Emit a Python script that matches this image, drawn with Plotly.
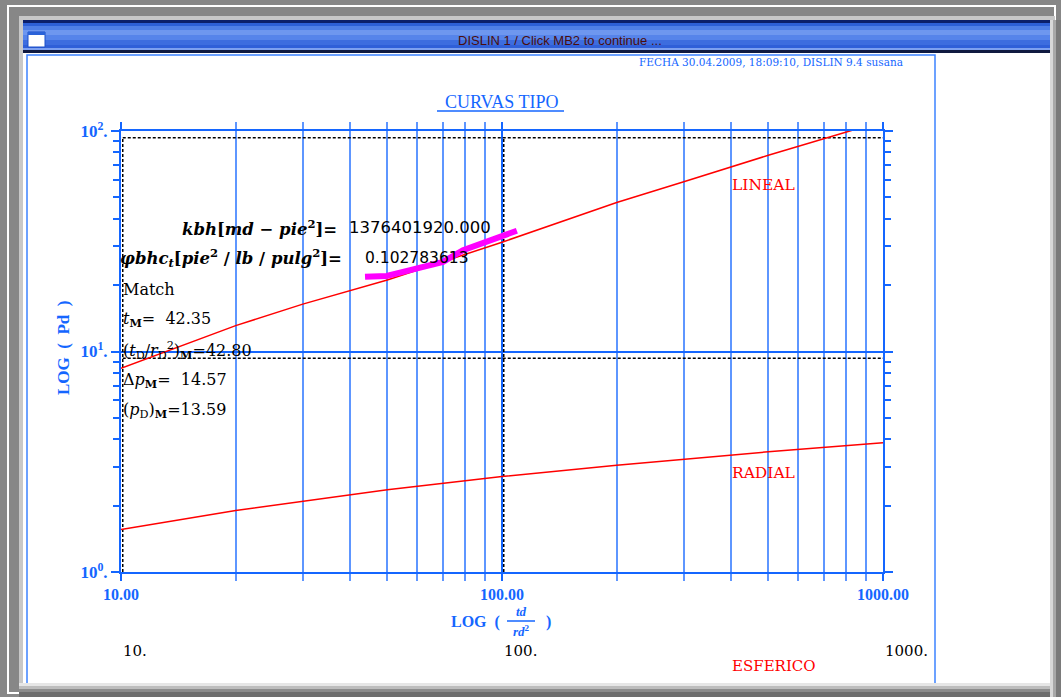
import math
import plotly.graph_objects as go

W, H = 1061, 697
L, R, T, B = 121, 883, 131, 572   # plot area (px)

# ---------------- data ----------------
LIN_TD = [10, 20, 30, 50, 100, 200, 300, 500, 818, 1000]
LIN_PD = [8.4, 13.1, 16.4, 21.1, 31.3, 47.4, 58.9, 77.6, 100, 111]
RAD_TD = [10, 20, 50, 100, 200, 500, 1000]
RAD_PD = [1.56, 1.90, 2.36, 2.71, 3.05, 3.51, 3.86]
DATA_TD = [43.7, 49.8, 57.4, 64.7, 70.0, 79.0, 85.9, 94.7, 109.4]
DATA_PD = [21.8, 22.0, 23.4, 24.7, 25.5, 28.8, 30.4, 32.7, 35.3]
T_M, TD_M = 42.35, 42.80
DP_M, PD_M = 14.57, 13.59
KBH = "1376401920.000"
PHIBHCT = "0.102783613"
X_TICKS = [10, 100, 1000]
X_TICKTEXT = ["10.00", "100.00", "1000.00"]
X_MINOR = [20, 30, 40, 50, 60, 70, 80, 90, 200, 300, 400, 500, 600, 700, 800, 900]
Y_TICKS = [1, 10, 100]
Y_TICKTEXT = ["10<sup>0</sup>.", "10<sup>1</sup>.", "10<sup>2</sup>."]
Y_MINOR = [2, 3, 4, 5, 6, 7, 8, 9, 20, 30, 40, 50, 60, 70, 80, 90]
DATA_DECADES_T = [10, 100, 1000]
DATA_DECADES_P = [1, 10, 100]
DATA_LABELS = ["10.", "100.", "1000."]

BLUE = "#1466ff"
GRID = "#5e96ff"
RED = "#ff0000"


def ax(px):
    return (px - L) / (R - L)


def ay(py):
    return (B - py) / (B - T)


fig = go.Figure()

# match-point (data) grid, dashed
xr = TD_M / T_M
yr = PD_M / DP_M
top_dash = max(p * yr for p in DATA_DECADES_P if p * yr <= 100)
for t in DATA_DECADES_T:
    fig.add_trace(go.Scatter(x=[t * xr, t * xr], y=[1, top_dash], mode="lines",
                             line=dict(color="black", width=1.5, dash="3px,2px"),
                             hoverinfo="skip", showlegend=False))
for p in DATA_DECADES_P:
    fig.add_trace(go.Scatter(x=[DATA_DECADES_T[0] * xr, 1000], y=[p * yr, p * yr], mode="lines",
                             line=dict(color="black", width=1.5, dash="3px,2px"),
                             hoverinfo="skip", showlegend=False))

fig.add_trace(go.Scatter(x=LIN_TD, y=LIN_PD, mode="lines", line=dict(color=RED, width=1.5),
                         showlegend=False))
fig.add_trace(go.Scatter(x=RAD_TD, y=RAD_PD, mode="lines", line=dict(color=RED, width=1.5),
                         showlegend=False))
fig.add_trace(go.Scatter(x=DATA_TD, y=DATA_PD, mode="lines", line=dict(color="#ff00ff", width=6),
                         showlegend=False))

# ---------------- window chrome (shapes) ----------------
shapes = []


def rect(x0, y0, x1, y1, fill=None, line=None, lw=0, layer="below"):
    shapes.append(dict(type="rect", xref="paper", yref="paper",
                       x0=ax(x0), x1=ax(x1), y0=ay(y1), y1=ay(y0),
                       fillcolor=fill if fill else "rgba(0,0,0,0)",
                       line=dict(color=line if line else "rgba(0,0,0,0)", width=lw),
                       layer=layer))


rect(8, 6, 1055, 693, line="#ffffff", lw=2)
rect(19, 16, 1055, 693, fill="#c8c8c8")
rect(23, 20, 1052, 688, fill="#ffffff")
# title bar gradient bands
bands = [(20, 23, "#0b1f6a"), (23, 26, "#2c5fd6"), (26, 30, "#4f7fe6"), (30, 35, "#6e97ef"),
         (35, 40, "#5684ea"), (40, 45, "#3d6ddf"), (45, 48, "#2f5fd8"), (48, 50, "#7da0f0"),
         (50, 53, "#101a40")]
for y0, y1, c in bands:
    rect(23, y0, 1052, y1, fill=c)
rect(28, 32, 45, 47, fill="#ffffff", line="#1b4fc8", lw=1)
rect(28, 32, 45, 35, fill="#2a62d8")
# page border
rect(27, 55, 935, 695, line="#3c82ff", lw=1.5)
# shadows
for y0, y1, c in [(683, 686, "#e6e6e6"), (686, 689, "#bdbdbd"), (689, 692, "#8c8c8c"), (692, 697, "#6e6e6e")]:
    rect(19, y0, 1061, y1, fill=c, layer="above")
for x0, x1, c in [(1050, 1053, "#d8d8d8"), (1053, 1056, "#a8a8a8"), (1056, 1061, "#7a7a7a")]:
    rect(x0, 20, x1, 697, fill=c, layer="above")
# underline of title
shapes.append(dict(type="line", xref="paper", yref="paper", x0=ax(437), x1=ax(564), y0=ay(111), y1=ay(111),
                   line=dict(color=BLUE, width=1.5)))
# fraction bar of x title
shapes.append(dict(type="line", xref="paper", yref="paper", x0=ax(507), x1=ax(535), y0=ay(621), y1=ay(621),
                   line=dict(color=BLUE, width=1.5)))

# ---------------- annotations ----------------
ann = []


def text(px, py, s, size=15, color="black", family="DejaVu Serif", xanchor="left", angle=0, weight="normal"):
    ann.append(dict(x=ax(px), y=ay(py), xref="paper", yref="paper", text=s, showarrow=False,
                    xanchor=xanchor, yanchor="middle", textangle=angle,
                    font=dict(size=size, color=color, family=family, weight=weight)))


SERIF_B = "Liberation Serif"
text(560, 40, "DISLIN 1 / Click MB2 to continue ...", size=13, color="#4a0d0d",
     family="Liberation Sans Narrow, Liberation Sans", xanchor="center")
text(905, 62, "FECHA 30.04.2009, 18:09:10, DISLIN 9.4 susana", size=10.5, color=BLUE,
     family="DejaVu Serif", xanchor="right")
text(501, 102, "CURVAS TIPO", size=18, color=BLUE, family=SERIF_B, xanchor="center")
text(63, 348, "LOG  (  Pd  )", size=17, color=BLUE, family=SERIF_B, xanchor="center", angle=-90, weight="bold")
text(449, 622, "LOG  (", size=16, color=BLUE, family=SERIF_B, weight="bold")
ann.append(dict(x=ax(521), y=ay(620), xref="paper", yref="paper", text="<i>td</i>", showarrow=False,
                xanchor="center", yanchor="bottom", borderpad=0,
                font=dict(size=13, color=BLUE, family=SERIF_B, weight="bold")))
ann.append(dict(x=ax(521), y=ay(622), xref="paper", yref="paper", text="<i>rd</i><sup>2</sup>", showarrow=False,
                xanchor="center", yanchor="top", borderpad=0,
                font=dict(size=13, color=BLUE, family=SERIF_B, weight="bold")))
text(544, 622, ")", size=16, color=BLUE, family=SERIF_B, weight="bold")

# match info
text(180, 228, "<i>kbh</i>[<i>md</i> \u2212 <i>pie</i><sup>2</sup>]=", size=16.5, family="DejaVu Serif", weight="bold")
text(347, 228, KBH, size=16.5, family="DejaVu Sans")
text(118, 258, "<i>\u03c6bhc</i><sub><i>t</i></sub>[<i>pie</i><sup>2</sup> / <i>lb</i> / <i>pulg</i><sup>2</sup>]=",
     size=16.5, family="DejaVu Serif", weight="bold")
text(363, 258, PHIBHCT, size=15.5, family="DejaVu Sans")
text(121, 289, "Match", size=16)
text(121, 319, "<i>t</i><sub><b>M</b></sub>=  %.2f" % T_M, size=16)
text(121, 350, "(<i>t</i><sub>D</sub>/<i>r</i><sub>D</sub><sup>2</sup>)<sub><b>M</b></sub>=%.2f" % TD_M, size=16)
text(121, 380, "\u0394<i>p</i><sub><b>M</b></sub>=  %.2f" % DP_M, size=16)
text(121, 410, "(<i>p</i><sub>D</sub>)<sub><b>M</b></sub>=%.2f" % PD_M, size=16)

text(730, 185, "LINEAL", size=15.5, color=RED)
text(730, 473, "RADIAL", size=15.5, color=RED)
text(730, 666, "ESFERICO", size=15, color=RED)

for t, lab in zip(DATA_DECADES_T, DATA_LABELS):
    ann.append(dict(x=math.log10(t), y=ay(651), xref="x", yref="paper", text=lab, showarrow=False,
                    xanchor="left", yanchor="middle", font=dict(size=15, color="black", family="DejaVu Serif")))

fig.update_layout(
    width=W, height=H, autosize=False,
    margin=dict(l=L, r=W - R, t=T, b=H - B, pad=0),
    paper_bgcolor="#878787", plot_bgcolor="rgba(0,0,0,0)",
    shapes=shapes, annotations=ann, showlegend=False,
    xaxis=dict(type="log", range=[1, 3], tickmode="array", tickvals=X_TICKS, ticktext=X_TICKTEXT,
               showgrid=True, gridcolor=BLUE, gridwidth=2, showline=True, linecolor=BLUE, linewidth=2,
               mirror="ticks", ticks="outside", ticklen=7, tickwidth=2, tickcolor=BLUE,
               tickfont=dict(family=SERIF_B, size=16, color=BLUE, weight="bold"),
               minor=dict(tickmode="array", tickvals=X_MINOR, showgrid=True, gridcolor=GRID, gridwidth=2,
                          ticks="outside", ticklen=7, tickwidth=2, tickcolor=GRID),
               zeroline=False),
    yaxis=dict(type="log", range=[0, 2], tickmode="array", tickvals=Y_TICKS, ticktext=Y_TICKTEXT,
               showgrid=True, gridcolor=BLUE, gridwidth=1.5, showline=True, linecolor=BLUE, linewidth=2,
               mirror="ticks", ticks="outside", ticklen=8, tickwidth=2, tickcolor=BLUE,
               tickfont=dict(family=SERIF_B, size=17, color=BLUE, weight="bold"),
               minor=dict(tickmode="array", tickvals=Y_MINOR, showgrid=False,
                          ticks="outside", ticklen=6, tickwidth=2, tickcolor=BLUE),
               zeroline=False),
)

fig.write_html("out.html", config={"displayModeBar": False},
               post_script="document.body.style.margin='0px';document.body.style.overflow='hidden';")
